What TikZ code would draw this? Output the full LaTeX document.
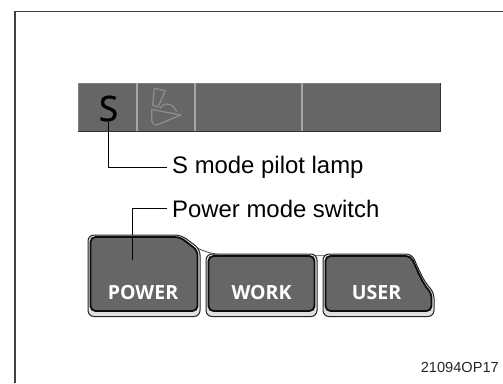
\documentclass[tikz,border=0pt]{standalone}
\usepackage{fontspec}
\setmainfont{Liberation Sans}
\newfontfamily\keyfont{Open Sans}
\newfontfamily\lampfont[RawFeature={embolden=1}]{Open Sans}
\tikzset{
    callout/.style={anchor=base west, inner sep=0pt, font=\fontsize{23.9}{26}\selectfont},
    leader/.style={draw=black, line width=0.9pt},
    keycap/.style={text=white, font=\keyfont\bfseries\fontsize{19.5}{22}\selectfont},
    keyrim/.style={draw=black!85, line width=1pt, fill=black!12},
    keyface/.style={draw=black!95, line width=1.8pt, fill=black!60},
    divider/.style={draw=black!35, line width=1.2pt},
    pedal/.style={draw=black!45, line width=1.3pt, line join=round},
}
\begin{document}
\begin{tikzpicture}[x=1pt, y=-1pt]
    \useasboundingbox (0,0) rectangle (503,383);
    % frame
    \draw[black!75, line width=1.8pt] (15,383) -- (15,11.5) -- (503,11.5);
    % lamp bar
    \fill[black!60] (78,83) rectangle (440,131);
    \draw[black!50, line width=1pt] (78,131) -- (78,83) -- (440,83);
    \draw[black!80, line width=1pt] (78,131) -- (440,131) -- (440,83);
    \foreach \x in {137,195,302} {
        \draw[divider] (\x,83) -- (\x,131);
    }
    \node[font=\lampfont\fontsize{35}{35}\selectfont, inner sep=0pt] (lampS) at (108.5,108.5) {S};
    % pedal lamp
    \draw[pedal] (154.3,88.3) -- (165.3,90.7) -- (158,107) -- (152.7,105) -- cycle;
    \draw[pedal] (151.7,109.5) -- (151.7,120) .. controls (152,124) and (155,126) .. (158,124.5)
        -- (180.7,115) -- cycle;
    \draw[pedal] (160,108.5) .. controls (162,103) and (172,101) .. (176.7,111.7);
    % callouts
    \node[callout] (lampText) at (172,173.5) {S mode pilot lamp};
    \node[callout] (powerText) at (172,217) {Power mode switch};
    \coordinate (powerTip) at (132.7,260);
    \coordinate (lampTip) at (108.5,122);
    \draw[leader] (lampTip) |- ([xshift=-5pt]lampText.west);
    \draw[leader] ([xshift=-5pt]powerText.west) -| (powerTip);
    % switches
    \draw[black!80, line width=0.7pt] (197,248) .. controls (210,254) and (218,255) .. (233,255);
    \draw[black!50, line width=0.7pt] (310,255) -- (330,255);
    \draw[keyrim, rounded corners=6pt] (88,235) -- (181,235) -- (200,249) -- (200,316.5) -- (88,316.5) -- cycle;
    \draw[keyface, rounded corners=5pt] (90.5,237) -- (180,237) -- (197.5,250.5) -- (197.5,311) -- (90.5,311) -- cycle;
    \draw[keyrim, rounded corners=6pt] (206,254) -- (317,254) -- (317,316.5) -- (206,316.5) -- cycle;
    \draw[keyface, rounded corners=5pt] (208.5,256) -- (314.5,256) -- (314.5,311) -- (208.5,311) -- cycle;
    \draw[keyrim, rounded corners=6pt] (323,254) -- (412,254) .. controls (418,268) and (424,282) .. (434,292) -- (434,316.5) -- (323,316.5) -- cycle;
    \draw[keyface, rounded corners=5pt] (325.5,256) -- (411,256) .. controls (417,270) and (423,284) .. (431.5,293) -- (431.5,311) -- (325.5,311) -- cycle;
    \node[keycap] (powerKey) at (143,293) {POWER};
    \node[keycap] (workKey) at (261.5,293) {WORK};
    \node[keycap] (userKey) at (376.5,293) {USER};
    \draw[leader] (132.7,237) -- (powerTip);
    \node[anchor=base east, inner sep=0pt, text=black!85, font=\fontsize{14.6}{16}\selectfont] (figCode) at (499,372) {21094OP17};
\end{tikzpicture}
\end{document}
